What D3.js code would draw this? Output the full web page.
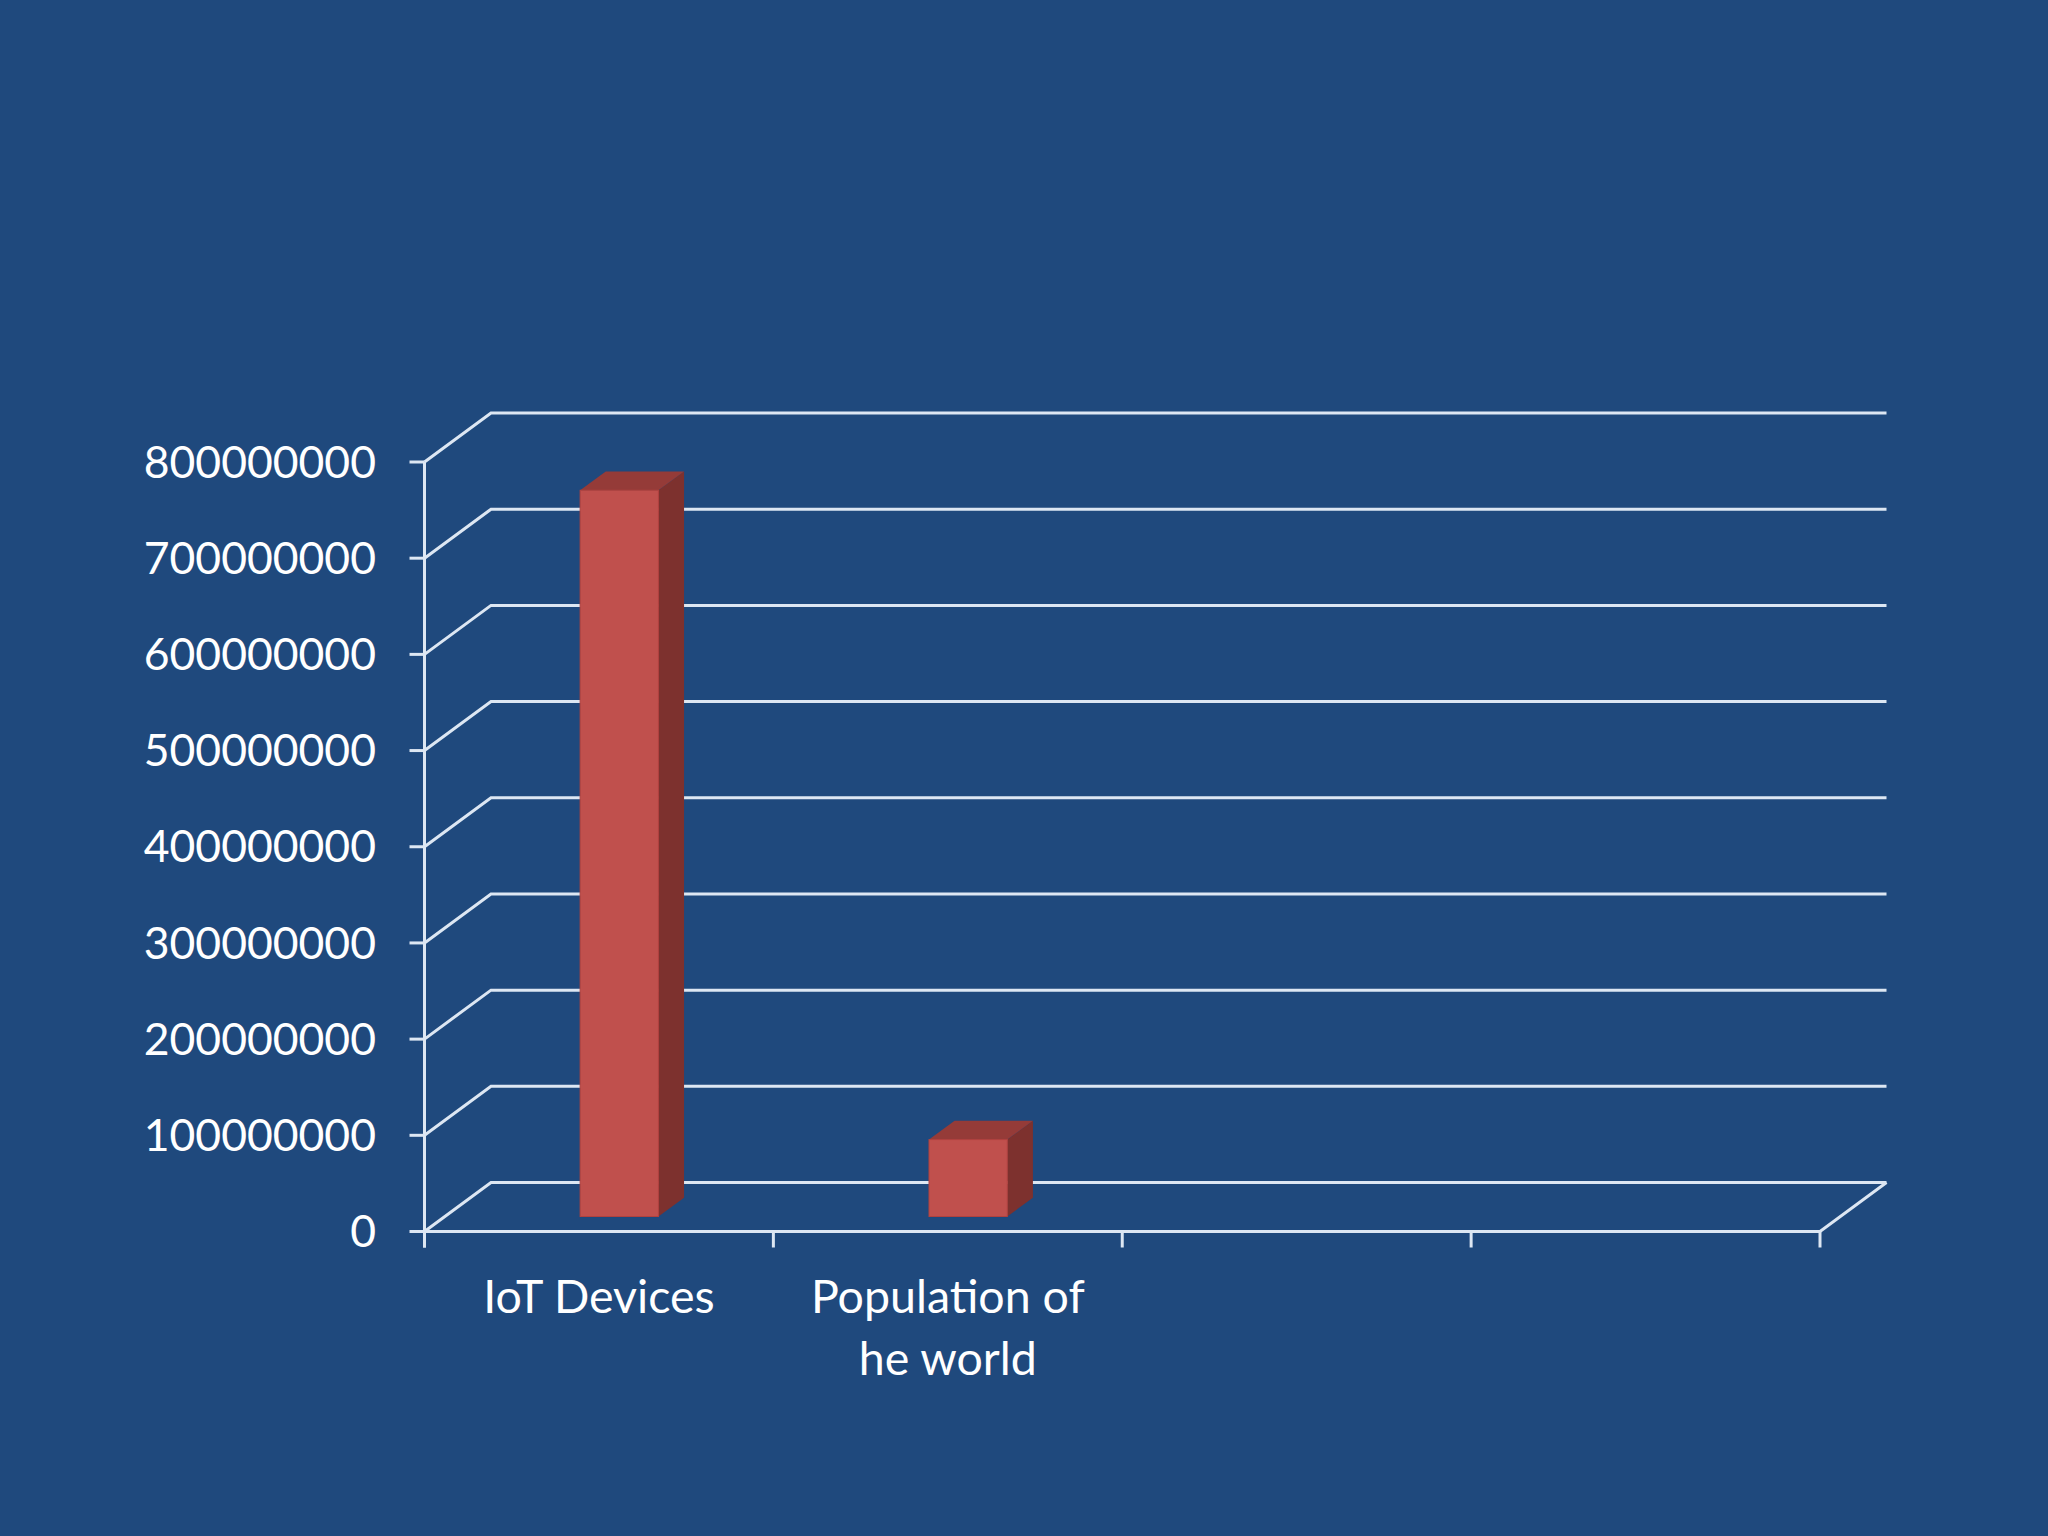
<!DOCTYPE html>
<html>
<head>
<meta charset="utf-8">
<script src="https://cdn.jsdelivr.net/npm/d3@7"></script>
<style>
  body { margin: 0; background: #1F497D; }
  text { font-family: Lato, "Open Sans", sans-serif; fill: #fff; }
</style>
</head>
<body>
<svg width="2048" height="1536"></svg>
<script>
// Chart data
const categories = ['IoT Devices', 'Population of he world', '', '']
const values = [755000000, 80000000, null, null]
const yTicks = [0, 100000000, 200000000, 300000000, 400000000, 500000000, 600000000, 700000000, 800000000]

const svg = d3.select('svg')
svg.append('rect').attr('width', 2048).attr('height', 1536).attr('fill', '#1F497D')

// Front plane of the 3D box and the depth offset
const x = d3.scaleBand().domain(d3.range(categories.length)).range([424.5, 1820])
const y = d3.scaleLinear().domain([0, 800000000]).range([1231.5, 462])
const depth = {dx: 66.5, dy: -49}
const gridColor = '#dde7f3'

const x0 = x.range()[0]
const x1 = x.range()[1]

// Side wall diagonals and back wall grid lines
const grid = svg.append('g').attr('fill', 'none').attr('stroke', gridColor).attr('stroke-width', 3)
grid.selectAll('.grid')
  .data(yTicks)
  .join('path')
  .attr('class', 'grid')
  .attr('d', d => `M${x0},${y(d)}L${x0 + depth.dx},${y(d) + depth.dy}L${x1 + depth.dx},${y(d) + depth.dy}`)

// Floor front edge and right diagonal
grid.append('path')
  .attr('d', `M${x0},${y(0)}L${x1},${y(0)}L${x1 + depth.dx},${y(0) + depth.dy}`)

// Value axis
grid.append('line')
  .attr('x1', x0).attr('x2', x0)
  .attr('y1', y(800000000)).attr('y2', y(0) + 16)
grid.selectAll('.ytick')
  .data(yTicks)
  .join('line')
  .attr('class', 'ytick')
  .attr('x1', x0 - 15).attr('x2', x0)
  .attr('y1', d => y(d)).attr('y2', d => y(d))

// Category tick marks at band boundaries
const bounds = d3.range(categories.length + 1).map(i => x0 + i * x.step())
grid.selectAll('.xtick')
  .data(bounds)
  .join('line')
  .attr('class', 'xtick')
  .attr('x1', d => d).attr('x2', d => d)
  .attr('y1', y(0)).attr('y2', y(0) + 16)

svg.append('g').selectAll('text')
  .data(yTicks)
  .join('text')
  .attr('x', 376)
  .attr('y', d => y(d))
  .attr('dy', '0.35em')
  .attr('text-anchor', 'end')
  .attr('font-size', 44.5)
  .text(d3.format('d'))

// Category labels, wrapped like the original
const labelLines = [['IoT Devices'], ['Population of', 'he world'], [], []]
const labels = svg.append('g').selectAll('text')
  .data(categories)
  .join('text')
  .attr('x', (d, i) => x(i) + x.bandwidth() / 2)
  .attr('y', 1313)
  .attr('text-anchor', 'middle')
  .attr('font-size', 46.5)
labels.selectAll('tspan')
  .data((d, i) => labelLines[i])
  .join('tspan')
  .attr('x', function () { return this.parentNode.getAttribute('x') })
  .attr('dy', (d, i) => i === 0 ? 0 : 62)
  .text(d => d)

// 3D bars: front face sits part way into the box
const barFrac = 0.2245
const front = 0.306
const thick = 0.385
const bars = svg.append('g').selectAll('g')
  .data(values.map((v, i) => ({v, i})).filter(d => d.v != null))
  .join('g')

bars.each(function (d) {
  const g = d3.select(this)
  const bw = x.bandwidth() * barFrac
  const left = x(d.i) + (x.bandwidth() - bw) / 2 + depth.dx * front
  const right = left + bw
  const base = y(0) + depth.dy * front
  const top = base - (y(0) - y(d.v))
  const ox = depth.dx * thick
  const oy = depth.dy * thick
  g.append('path')
    .attr('d', `M${right},${base}L${right + ox},${base + oy}L${right + ox},${top + oy}L${right},${top}Z`)
    .attr('fill', '#7D312E')
  g.append('path')
    .attr('d', `M${left},${top}L${left + ox},${top + oy}L${right + ox},${top + oy}L${right},${top}Z`)
    .attr('fill', '#953B38')
  g.append('rect')
    .attr('x', left).attr('y', top)
    .attr('width', bw).attr('height', base - top)
    .attr('fill', '#C0504D')
    .attr('stroke', '#B2423F').attr('stroke-width', 1)
})
</script>
</body>
</html>
